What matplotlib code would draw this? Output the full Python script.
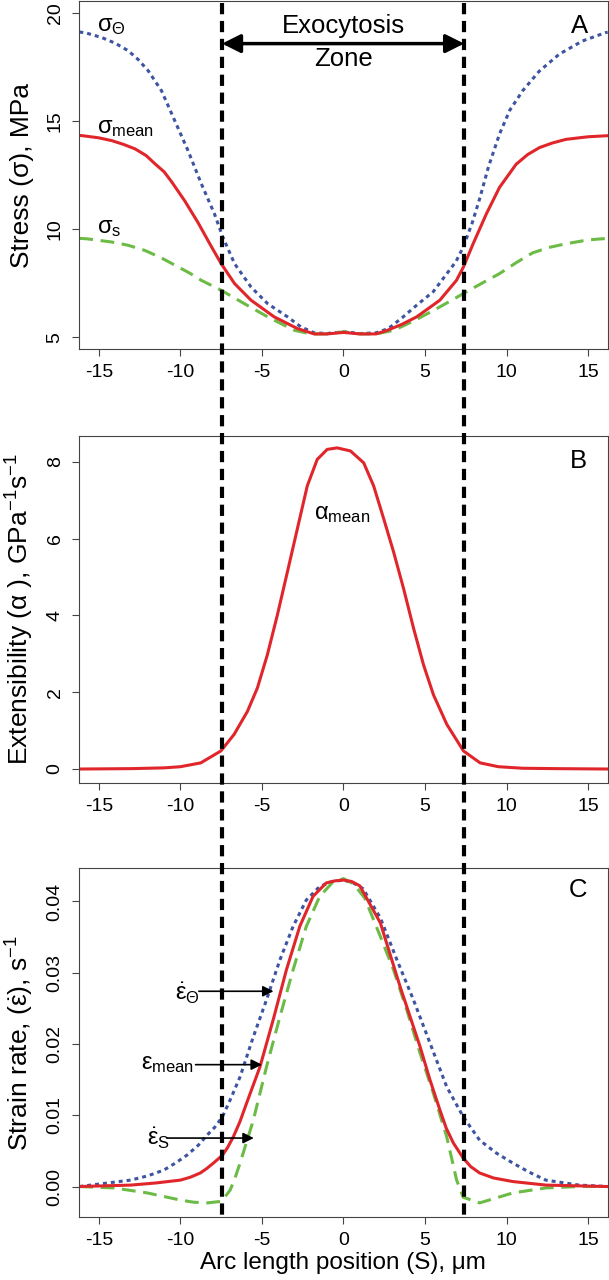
import matplotlib.pyplot as plt
import matplotlib.transforms as mtransforms
from matplotlib.lines import Line2D

plt.rcParams['font.family'] = ['Liberation Sans', 'DejaVu Sans']
plt.rcParams['mathtext.fontset'] = 'custom'
plt.rcParams['mathtext.rm'] = 'Liberation Sans'
plt.rcParams['mathtext.it'] = 'Liberation Sans:italic'
plt.rcParams['mathtext.bf'] = 'Liberation Sans:bold'
plt.rcParams['axes.unicode_minus'] = False

# ---- panel A: stress (MPa)
sth_x = [-16.2, -15.73, -14.82, -14.0, -13.2, -12.6, -11.97, -11.16, -10.35, -9.54, -8.72,
         -7.91, -7.4, -6.68, -5.67, -4.65, -3.43, -2.62, -1.8, -1.0, 0.0, 1.0, 2.0, 2.76,
         3.6, 4.49, 5.5, 6.3, 6.9, 7.34, 7.9, 8.35, 8.9, 9.57, 10.2, 10.99, 12.0, 13.23,
         14.65, 16.08, 16.2]
sth_y = [19.12, 19.06, 18.86, 18.6, 18.25, 17.85, 17.32, 16.4, 15.02, 13.64, 12.1,
         10.7, 9.63, 8.4, 7.32, 6.55, 5.94, 5.48, 5.2, 5.17, 5.25, 5.17, 5.2, 5.4,
         5.9, 6.48, 7.1, 7.9, 8.5, 9.16, 10.3, 11.4, 12.9, 14.4, 15.5, 16.4, 17.3, 18.09,
         18.7, 19.09, 19.1]

smean_x = [-16.2, -16.0, -15.0, -14.2, -13.5, -12.78, -12.1, -11.56, -11.0, -10.55, -9.73,
           -8.92, -8.11, -7.5, -6.68, -5.67, -4.25, -2.83, -1.8, -1.0, 0.0, 1.0, 2.0, 2.7,
           3.6, 4.49, 5.91, 6.93, 7.36, 7.95, 8.76, 9.57, 10.59, 11.3, 12.02, 12.8, 13.64,
           15.0, 16.2]
smean_y = [14.33, 14.32, 14.22, 14.09, 13.92, 13.71, 13.4, 13.02, 12.65, 12.2, 11.3,
           10.3, 9.2, 8.4, 7.48, 6.71, 5.94, 5.4, 5.15, 5.15, 5.22, 5.15, 5.15, 5.32,
           5.6, 5.94, 6.71, 7.63, 8.25, 9.32, 10.7, 11.93, 13.0, 13.45, 13.77, 13.98, 14.15,
           14.27, 14.32]

ss_x = [-16.2, -15.73, -14.2, -13.2, -12.17, -11.2, -10.14, -9.4, -8.72, -7.5, -6.08,
        -4.65, -3.02, -2.0, -1.0, 0.0, 1.0, 2.0, 3.1, 4.3, 5.55, 6.5, 7.36, 8.5, 9.57,
        10.6, 11.6, 12.6, 13.64, 15.0, 16.2]
ss_y = [9.57, 9.55, 9.4, 9.25, 9.01, 8.68, 8.25, 7.95, 7.63, 7.17, 6.55,
        5.94, 5.32, 5.15, 5.15, 5.25, 5.15, 5.15, 5.32, 5.75, 6.25, 6.65, 7.02, 7.5, 7.94,
        8.45, 8.9, 9.15, 9.32, 9.5, 9.57]

# ---- panel B: extensibility
alpha_x = [-16.2, -13.0, -11.0, -10.0, -8.75, -7.52, -6.71, -5.89, -5.28, -4.67, -4.06,
           -3.44, -2.83, -2.22, -1.61, -1.0, -0.39, 0.43, 1.24, 1.85, 2.47, 3.08, 3.69,
           4.3, 4.91, 5.52, 6.34, 7.36, 8.38, 9.5, 11.0, 13.0, 16.2]
alpha_y = [0.0, 0.01, 0.03, 0.06, 0.16, 0.47, 0.90, 1.50, 2.11, 2.97, 4.0,
           5.13, 6.25, 7.37, 8.06, 8.32, 8.36, 8.28, 7.97, 7.37, 6.51, 5.64, 4.69,
           3.66, 2.71, 1.93, 1.16, 0.47, 0.16, 0.06, 0.02, 0.01, 0.0]

# ---- panel C: strain rate
emean_x = [-16.2, -13.05, -11.5, -10.0, -9.4, -8.78, -8.4, -7.97, -7.42, -7.1, -6.75,
           -6.35, -5.94, -5.12, -4.31, -3.5, -2.68, -1.87, -1.06, -0.5, 0.0, 0.5, 1.0,
           2.26, 3.48, 4.7, 5.3, 5.92, 6.3, 6.74, 7.34, 7.8, 8.35, 9.2, 10.38, 12.41, 16.2]
emean_y = [0.0, 0.0002, 0.0005, 0.0009, 0.0013, 0.0019, 0.0025, 0.0033, 0.0044, 0.0055, 0.007,
           0.0091, 0.0117, 0.0168, 0.0234, 0.0304, 0.0365, 0.0407, 0.0426, 0.0429, 0.0430, 0.0428,
           0.0422, 0.037, 0.028, 0.0196, 0.015, 0.0107, 0.0082, 0.0061, 0.004, 0.0028, 0.0019,
           0.0012, 0.0007, 0.0002, 0.0]

eth_x = [-16.2, -13.05, -12.0, -11.02, -10.3, -9.6, -8.9, -8.37, -7.9, -7.42, -6.9,
         -6.34, -5.53, -4.72, -3.9, -3.09, -2.28, -1.46, -0.7, 0.0, 0.6, 1.2, 2.26, 3.28,
         4.29, 5.31, 6.33, 7.34, 8.35, 9.37, 10.38, 11.4, 12.41, 14.45, 16.2]
eth_y = [0.0, 0.0009, 0.0015, 0.0023, 0.0033, 0.0044, 0.0058, 0.0072, 0.0083, 0.0098, 0.0124,
         0.0154, 0.021, 0.0262, 0.0318, 0.0365, 0.0402, 0.0421, 0.0428, 0.0430, 0.0426, 0.0418,
         0.0377, 0.0318, 0.0262, 0.0201, 0.014, 0.0098, 0.0065, 0.0047, 0.0033, 0.002, 0.0009,
         0.0002, 0.0]

es_x = [-16.2, -14.07, -12.03, -10.0, -9.2, -8.37, -7.56, -7.25, -6.95, -6.65, -6.34,
        -5.53, -4.72, -3.9, -3.09, -2.28, -1.46, -0.7, 0.0, 0.6, 1.3, 2.26, 3.07, 3.88,
        4.7, 5.51, 6.33, 6.94, 7.34, 8.35, 10.38, 12.41, 14.45, 16.2]
es_y = [0.0, -0.0002, -0.0009, -0.0019, -0.0022, -0.0023, -0.0021, -0.0014, -0.0005, 0.0012, 0.0033,
        0.0093, 0.0168, 0.0238, 0.0304, 0.0365, 0.0407, 0.0426, 0.0432, 0.0425, 0.0405, 0.0351,
        0.0304, 0.0248, 0.0187, 0.0131, 0.007, 0.0009, -0.0015, -0.0023, -0.0009, -0.0002, 0.0,
        0.0]

zone_edges = [-7.45, 7.4]
xticks = [-15, -10, -5, 0, 5, 10, 15]

RED = '#E0262B'
BLUE = '#3D54A0'
GREEN = '#6DBB47'
AXC = '#444444'
LW = 2.2
dot = (0, (1.3, 1.3))
dash = (0, (4.5, 2.5))

fig = plt.figure(figsize=(6.09, 12.8), dpi=100)
axA = fig.add_axes([0.1297, 0.7273, 0.8686, 0.2719])
axB = fig.add_axes([0.1297, 0.3884, 0.8686, 0.2710])
axC = fig.add_axes([0.1297, 0.0492, 0.8686, 0.2727])

for ax in (axA, axB, axC):
    ax.set_xlim(-16.22, 16.22)
    ax.set_xticks(xticks)
    ax.set_xticklabels([str(t) for t in xticks])
    for s in ax.spines.values():
        s.set_color(AXC)
        s.set_linewidth(0.8)
    ax.tick_params(direction='out', length=5, width=0.8, color=AXC, labelsize=14, pad=6)
    ax.tick_params(axis='y', labelrotation=90)
    for lab in ax.get_yticklabels():
        lab.set_va('center')

# A
axA.plot(sth_x, sth_y, color=BLUE, lw=LW, linestyle=dot)
axA.plot(ss_x, ss_y, color=GREEN, lw=LW, linestyle=dash)
axA.plot(smean_x, smean_y, color=RED, lw=LW)
axA.set_ylim(4.45, 20.55)
axA.set_yticks([5, 10, 15, 20])
axA.annotate('', xy=(zone_edges[0], 18.58), xytext=(zone_edges[1], 18.58),
             arrowprops=dict(arrowstyle='<|-|>', lw=2.5, color='k', mutation_scale=28,
                             shrinkA=0, shrinkB=0))
axA.text(0, 19.4, 'Exocytosis', ha='center', va='center', fontsize=18.5)
axA.text(0, 17.88, 'Zone', ha='center', va='center', fontsize=18.5)
axA.text(14.5, 19.4, 'A', ha='center', va='center', fontsize=18.5)
axA.text(-15.12, 19.17, r'$\mathrm{σ}_{\mathrm{Θ}}$', ha='left', va='baseline', fontsize=17)
axA.text(-15.12, 14.46, r'$\mathrm{σ}_{\mathrm{mean}}$', ha='left', va='baseline', fontsize=17)
axA.text(-15.12, 9.8, r'$\mathrm{σ}_{\mathrm{s}}$', ha='left', va='baseline', fontsize=17)

# B
axB.plot(alpha_x, alpha_y, color=RED, lw=LW)
axB.set_ylim(-0.36, 8.67)
axB.set_yticks([0, 2, 4, 6, 8])
axB.text(14.4, 8.03, 'B', ha='center', va='center', fontsize=18.5)
axB.text(-1.83, 6.5, r'$\mathrm{α}_{\mathrm{mean}}$', ha='left', va='baseline', fontsize=17)

# C
axC.plot(eth_x, eth_y, color=BLUE, lw=LW, linestyle=dot)
axC.plot(es_x, es_y, color=GREEN, lw=LW, linestyle=dash)
axC.plot(emean_x, emean_y, color=RED, lw=LW)
axC.set_ylim(-0.00428, 0.0447)
axC.set_yticks([0.0, 0.01, 0.02, 0.03, 0.04])
axC.set_yticklabels(['0.00', '0.01', '0.02', '0.03', '0.04'])
axC.text(14.4, 0.0416, 'C', ha='center', va='center', fontsize=18.5)
arr = dict(arrowstyle='-|>', lw=1.2, color='k', mutation_scale=16, shrinkA=0, shrinkB=0)
axC.text(-10.32, 0.0262, r'$\dot{\mathrm{ε}}_{\mathrm{Θ}}$', ha='left', va='baseline', fontsize=17)
axC.annotate('', xy=(-4.29, 0.0274), xytext=(-8.87, 0.0274), arrowprops=arr)
axC.text(-12.44, 0.0165, r'$\mathrm{ε}_{\mathrm{mean}}$', ha='left', va='baseline', fontsize=17)
axC.annotate('', xy=(-5.0, 0.0171), xytext=(-9.07, 0.0171), arrowprops=arr)
axC.text(-12.03, 0.0058, r'$\dot{\mathrm{ε}}_{\mathrm{S}}$', ha='left', va='baseline', fontsize=17)
axC.annotate('', xy=(-5.5, 0.0068), xytext=(-10.81, 0.0068), arrowprops=arr)

# axis labels
fig.text(22 / 609, 1 - 175 / 1280, 'Stress (σ), MPa', rotation=90, ha='center', va='center', fontsize=19)
fig.text(20 / 609, 1 - 609 / 1280, r'Extensibility (α ), GPa$^{-1}$s$^{-1}$', rotation=90,
         ha='center', va='center', fontsize=19)
fig.text(20 / 609, 1 - 1043 / 1280, r'Strain rate, $(\dot{\mathrm{ε}})$, s$^{-1}$', rotation=90,
         ha='center', va='center', fontsize=19)
fig.text(343 / 609, 1 - 1263 / 1280, 'Arc length position (S), μm', ha='center', va='center', fontsize=17.5)

# exocytosis zone boundaries running through all panels
blend = mtransforms.blended_transform_factory(axA.transData, fig.transFigure)
for xe in zone_edges:
    fig.add_artist(Line2D([xe, xe], [1 - 3 / 1280, 1 - 1217 / 1280], transform=blend,
                          color='k', lw=3, linestyle=(0, (2.7, 1.6)), zorder=5))

fig.savefig('out.png', dpi=100)
